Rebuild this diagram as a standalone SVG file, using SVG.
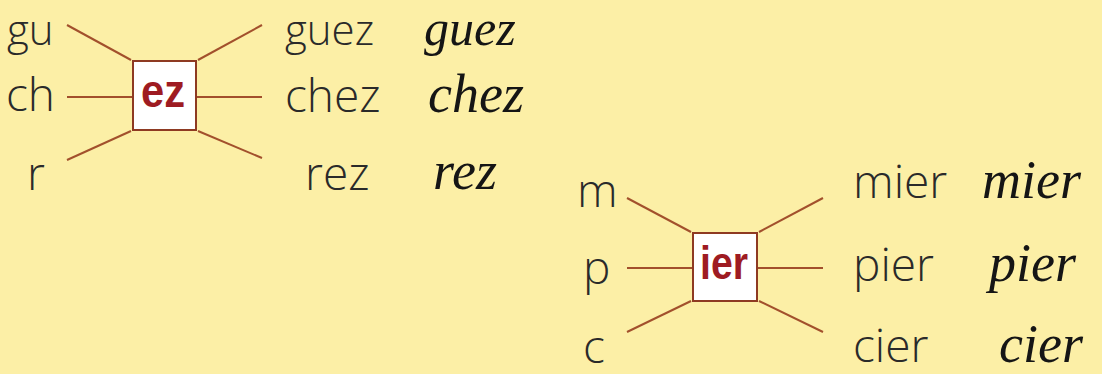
<svg xmlns="http://www.w3.org/2000/svg" width="1102" height="374" viewBox="0 0 1102 374">
<style>
.bg{fill:#FCEFA6}
.print{font-family:"Open Sans","Liberation Sans",sans-serif;font-weight:300;font-size:46px;fill:#2a2a2a}
.top{font-size:42px}
.cursive{font-family:"Liberation Serif","DejaVu Serif",serif;font-style:italic;font-weight:400;font-size:54px;fill:#151515}
.ctop{font-size:50px}
.box{fill:#ffffff;stroke:#8E3A22;stroke-width:2}
.suffix{font-family:"Liberation Sans","DejaVu Sans",sans-serif;font-weight:bold;font-size:47px;fill:#9E1B22}
.conn line{stroke:#A2502C;stroke-width:2}
</style>
<rect class="bg" x="0" y="0" width="1102" height="374"/>
<g id="connectors" class="conn">
<line x1="67" y1="25" x2="131" y2="60"/>
<line x1="67" y1="97" x2="133" y2="97"/>
<line x1="67" y1="160" x2="131" y2="131"/>
<line x1="198" y1="60" x2="262" y2="25"/>
<line x1="196" y1="97" x2="262" y2="97"/>
<line x1="198" y1="131" x2="262" y2="158"/>
<line x1="627" y1="198" x2="691" y2="232"/>
<line x1="627" y1="268" x2="693" y2="268"/>
<line x1="627" y1="332" x2="691" y2="301"/>
<line x1="759" y1="232" x2="823" y2="198"/>
<line x1="757" y1="268" x2="823" y2="268"/>
<line x1="759" y1="301" x2="823" y2="332"/>
</g>
<g id="node-ez">
<rect class="box" x="133" y="61" width="63" height="69"/>
<text class="suffix" x="141" y="107" textLength="44" lengthAdjust="spacingAndGlyphs">ez</text>
</g>
<g id="node-ier">
<rect class="box" x="693" y="233" width="64" height="68"/>
<text class="suffix" x="700" y="279" textLength="48" lengthAdjust="spacingAndGlyphs">ier</text>
</g>
<g id="left1">
<text class="print top" x="7" y="45">gu</text>
<text class="print" x="6" y="111">ch</text>
<text class="print" x="27" y="190">r</text>
</g>
<g id="right1">
<text class="print top" x="285" y="45">guez</text>
<text class="print" x="285" y="112">chez</text>
<text class="print" x="305" y="190">rez</text>
<text class="cursive ctop" x="424" y="45">guez</text>
<text class="cursive" x="428" y="112">chez</text>
<text class="cursive" x="433" y="189">rez</text>
</g>
<g id="left2">
<text class="print" x="577" y="207">m</text>
<text class="print" x="583" y="284">p</text>
<text class="print" x="583" y="363">c</text>
</g>
<g id="right2">
<text class="print" x="853" y="198">mier</text>
<text class="print" x="853" y="281">pier</text>
<text class="print" x="853" y="362">cier</text>
<text class="cursive" x="982" y="198">mier</text>
<text class="cursive" x="989" y="281">pier</text>
<text class="cursive" x="999" y="362">cier</text>
</g>
</svg>
